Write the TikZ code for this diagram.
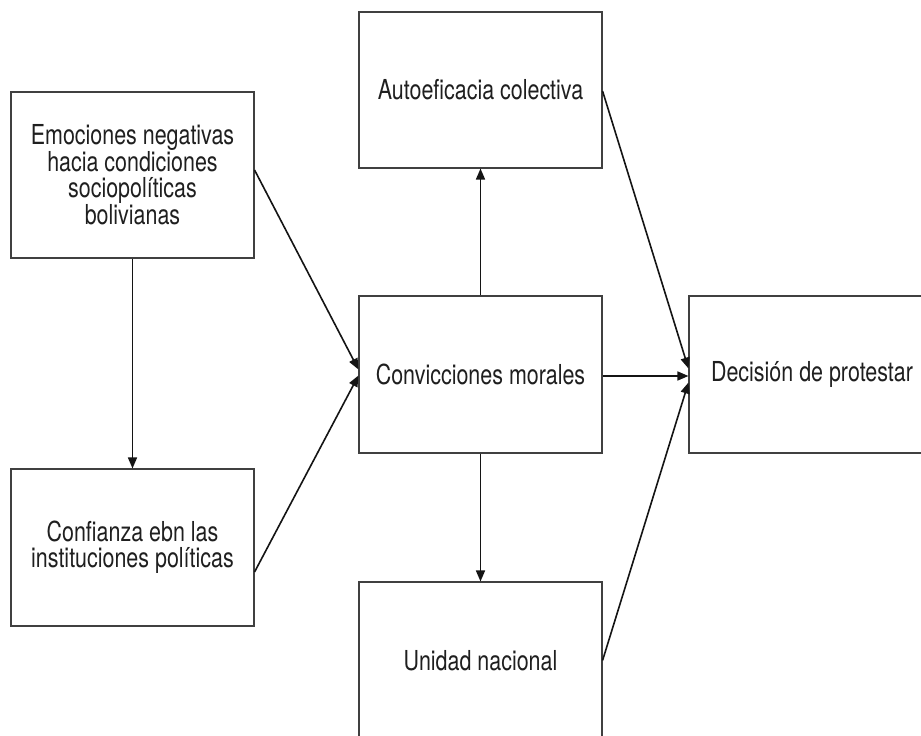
\documentclass[tikz,border=0pt]{standalone}
\usepackage{fontspec}
\setmainfont{TeX Gyre Heros}[FakeStretch=0.78]
\usetikzlibrary{arrows.meta}
\begin{document}
\begin{tikzpicture}[x=1pt,y=-1pt,
  box/.style={draw=black!75,line width=1.1pt,fill=white,inner sep=0pt,
    minimum width=243pt,align=center,text=black!88,
    font=\fontsize{27.5}{26}\selectfont},
  arr/.style={draw=black!92,line width=1.6pt,-{Triangle[length=11pt,width=9pt]}}]
\clip (0,0) rectangle (921,736);
\fill[white] (0,0) rectangle (921,736);
\node[box,minimum height=166pt] (A) at (132.5,175) {Emociones negativas\\hacia condiciones\\sociopolíticas\\bolivianas};
\node[box,minimum height=157pt] (B) at (132.5,547.5) {Confianza ebn las\\instituciones políticas};
\node[box,minimum height=156pt] (C) at (480.5,90) {Autoeficacia colectiva};
\node[box,minimum height=157pt] (D) at (480.5,374.5) {Convicciones morales};
\node[box,minimum height=157pt] (E) at (480.5,660.5) {Unidad nacional};
\node[box,minimum height=157pt,minimum width=246pt] (F) at (812,374.5) {Decisión de protestar};
\draw[arr] (A.south) -- (B.north);
\draw[arr] ([yshift=5pt]A.east) -- ([yshift=5pt]D.west);
\draw[arr] ([yshift=-24.5pt]B.east) -- ([yshift=-1pt]D.west);
\draw[arr] (D.north) -- (C.south);
\draw[arr] (D.south) -- (E.north);
\draw[arr] ([yshift=-1.5pt]D.east) -- ([yshift=-1.5pt]F.west);
\draw[arr] ([yshift=-1pt]C.east) -- ([yshift=6pt]F.west);
\draw[arr] (E.east) -- ([yshift=-8pt]F.west);
\end{tikzpicture}
\end{document}
